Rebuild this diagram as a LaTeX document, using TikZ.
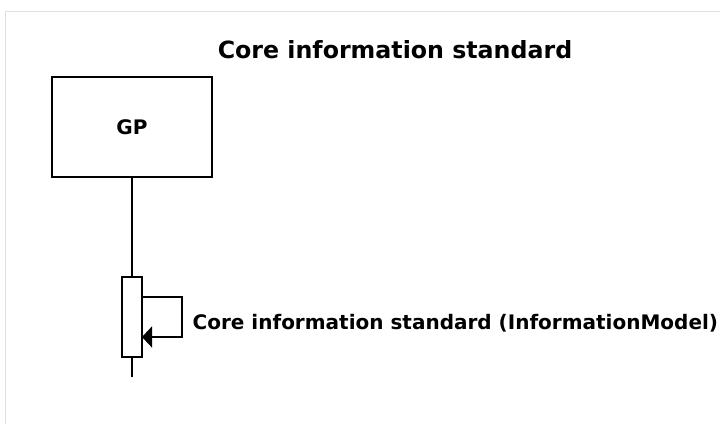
\documentclass[tikz,border=0pt]{standalone}
\usepackage{fontspec}
\setmainfont{DejaVu Sans}
\usepackage{tikz}
\usetikzlibrary{positioning,arrows.meta}
\newcommand{\bigfont}{\fontsize{23.7}{28}\selectfont\bfseries}
\newcommand{\msgfont}{\fontsize{20}{24}\selectfont\bfseries}

\begin{document}
\begin{tikzpicture}[
  x=1pt, y=-1pt,
  line width=1.3pt,
  actor/.style={draw, fill=white, inner sep=0pt, outer sep=0pt, minimum width=160pt, minimum height=100pt, font=\msgfont},
  activation/.style={draw, fill=white, inner sep=0pt, outer sep=0pt, minimum width=20pt, minimum height=80pt},
  life/.style={line width=1.3pt},
  msg/.style={-{Triangle[length=10pt, width=21pt]}, line width=1.3pt},
]
\useasboundingbox (0,0) rectangle (720,424);
\draw[line width=1pt, black!12] (5.5,424) -- (5.5,11) -- (720,11);

\node[anchor=base, font=\bigfont] (title) at (395,58) {Core information standard};
\node[actor] (gp) at (132,127) {GP};
\node[activation, below=100pt of gp] (act) {};
\coordinate[below=20pt of act] (lifeend);

\draw[life] (gp) -- (act);
\draw[life] (act) -- (lifeend);

% self message
\coordinate (out) at ([yshift=-20pt]act.north east);
\coordinate (back) at ([yshift=-60pt]act.north east);
\draw[msg] (out) -- ++(40,0) |- (back);
\node[anchor=base west, font=\msgfont, inner sep=0pt] (label) at (192,329) {Core information standard (InformationModel)};
\end{tikzpicture}
\end{document}
